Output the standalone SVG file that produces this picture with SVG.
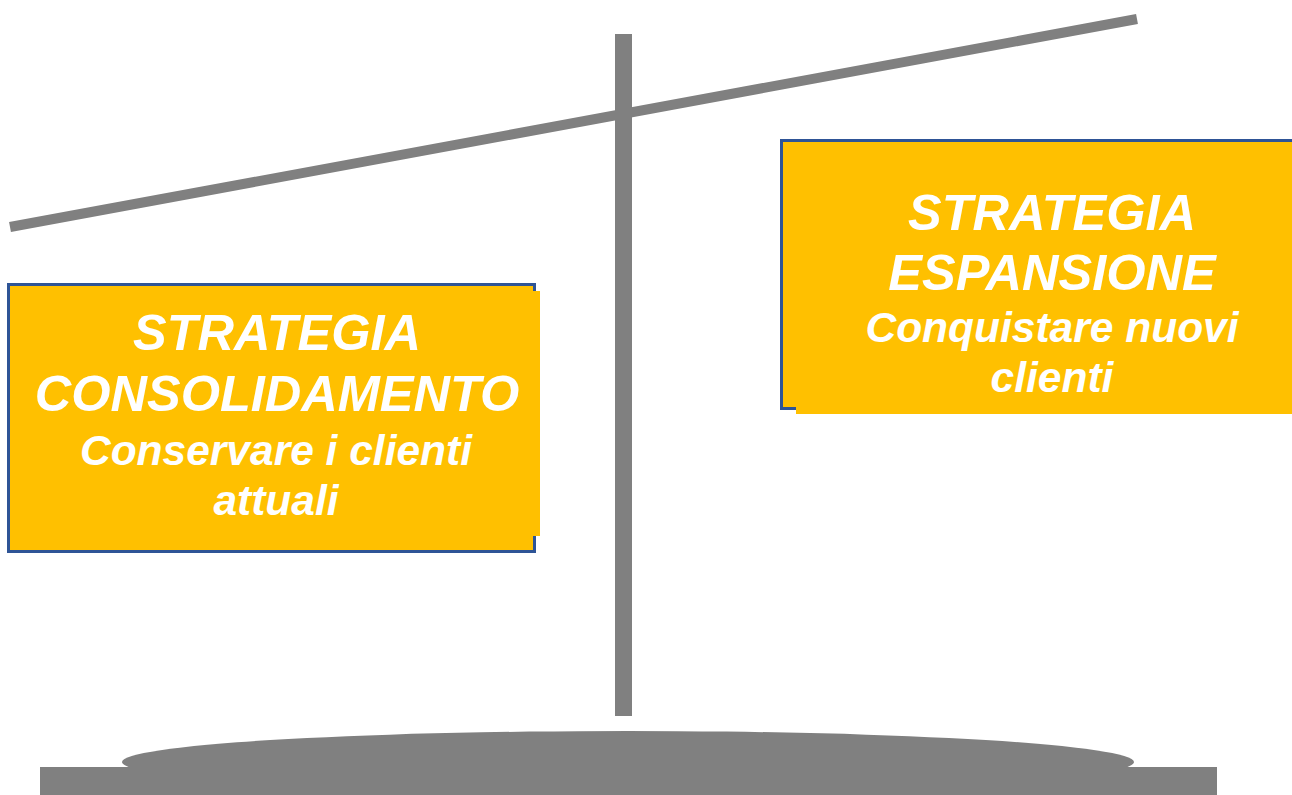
<svg xmlns="http://www.w3.org/2000/svg" width="1292" height="795" viewBox="0 0 1292 795">
<style>
.g{fill:#808080}
.frame{fill:#FFC000;stroke:#2E5496;stroke-width:3}
.fill{fill:#FFC000}
.t1{font-family:"Liberation Sans",Arial,sans-serif;font-weight:bold;font-style:italic;fill:#fff;font-size:50.5px;text-anchor:middle}
.t2{font-family:"Liberation Sans",Arial,sans-serif;font-weight:bold;font-style:italic;fill:#fff;font-size:42.5px;text-anchor:middle}
</style>
<g id="scale">
<ellipse class="g" cx="628" cy="762" rx="506" ry="31"/>
<rect class="g" x="40" y="767" width="1177" height="28"/>
<rect class="g" x="615" y="34" width="17" height="682"/>
<line x1="10" y1="227" x2="1137" y2="19" stroke="#808080" stroke-width="10"/>
</g>
<g id="left-box">
<rect class="frame" x="8.5" y="284.5" width="526" height="267"/>
<rect class="fill" x="10" y="291" width="530" height="245"/>
<text class="t1" x="277" y="350">STRATEGIA</text>
<text class="t1" x="277" y="411">CONSOLIDAMENTO</text>
<text class="t2" x="276" y="465">Conservare i clienti</text>
<text class="t2" x="276" y="515">attuali</text>
</g>
<g id="right-box">
<rect class="frame" x="781.5" y="140.5" width="520" height="268"/>
<rect class="fill" x="796" y="146" width="500" height="268"/>
<text class="t1" x="1052" y="230">STRATEGIA</text>
<text class="t1" x="1052" y="290">ESPANSIONE</text>
<text class="t2" x="1052" y="342">Conquistare nuovi</text>
<text class="t2" x="1052" y="392">clienti</text>
</g>
</svg>
